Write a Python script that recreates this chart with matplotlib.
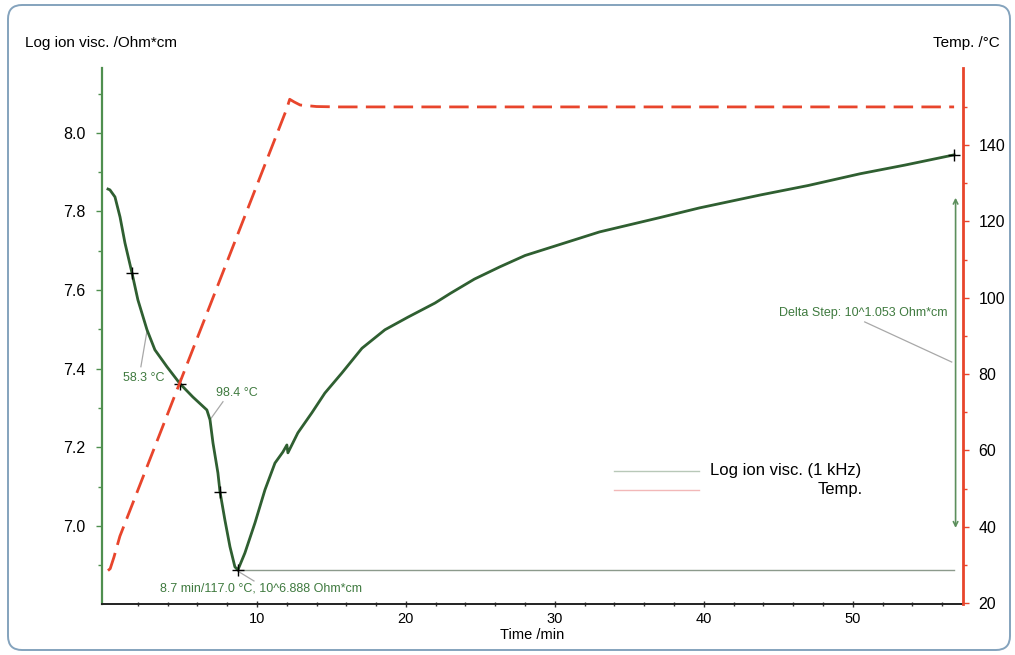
import numpy as np
import matplotlib.pyplot as plt
import matplotlib.patches as mpatches
from matplotlib.transforms import IdentityTransform

plt.rcParams['font.family'] = ['Liberation Sans', 'DejaVu Sans']

# log ion viscosity (1 kHz)
time_visc = [0.0, 0.13, 0.47, 0.81, 1.14, 1.61, 2.01, 2.62, 3.15, 3.96, 4.83, 5.70, 6.64,
             6.85, 7.05, 7.38, 7.52, 7.85, 8.19, 8.52, 8.72, 9.19, 9.87, 10.54, 11.21,
             11.74, 12.01, 12.08, 12.75, 13.69, 14.56, 15.70, 17.05, 18.59, 20.13,
             21.95, 23.0, 24.6, 26.3, 28.0, 30.0, 33.0, 37.0, 39.7, 43.8, 47.0, 50.5, 53.5, 56.8]
visc = [7.857, 7.855, 7.837, 7.786, 7.72, 7.644, 7.575, 7.499, 7.448, 7.405, 7.362, 7.328, 7.295,
        7.270, 7.211, 7.135, 7.087, 7.015, 6.947, 6.896, 6.888, 6.931, 7.008, 7.092, 7.160,
        7.188, 7.206, 7.186, 7.237, 7.288, 7.338, 7.389, 7.452, 7.499, 7.531,
        7.567, 7.592, 7.628, 7.659, 7.688, 7.712, 7.748, 7.784, 7.809, 7.842, 7.866, 7.896, 7.918, 7.944]
marker_times = [1.61, 4.83, 7.52, 8.72, 56.8]

# temperature program
time_temp = [0.0, 0.15, 0.4, 0.8, 12.0, 12.2, 12.5, 12.9, 14.0, 15.5, 56.8]
temp = [28.5, 29.0, 32.0, 37.5, 149.5, 152.0, 151.3, 150.5, 150.1, 150.0, 150.0]

x_ticks = [10, 20, 30, 40, 50]
visc_ticks = [7.0, 7.2, 7.4, 7.6, 7.8, 8.0]
temp_ticks = [20, 40, 60, 80, 100, 120, 140]

green = '#2f5f31'
green_txt = '#3f7a3f'
red = '#e8452c'
grey = '#a8a8a8'

fig = plt.figure(figsize=(10.15, 6.55), dpi=100)
fig.patch.set_facecolor('white')
frame = mpatches.FancyBboxPatch((8, 5), 1002, 645, boxstyle='round,pad=0,rounding_size=14',
                                transform=IdentityTransform(), fill=False,
                                edgecolor='#84a3bd', linewidth=1.4)
fig.patches.append(frame)

ax = fig.add_axes([0.1005, 0.0779, 0.8483, 0.8183])
ax2 = ax.twinx()

ax.set_xlim(-0.4, 57.4)
ax.set_ylim(6.8015, 8.165)
ax2.set_ylim(19.75, 160.2)

for s in ['top', 'right']:
    ax.spines[s].set_visible(False)
for s in ['top', 'left', 'bottom']:
    ax2.spines[s].set_visible(False)
ax.spines['left'].set_color('#4f8f4f')
ax.spines['left'].set_linewidth(1.6)
ax.spines['bottom'].set_color('#222222')
ax.spines['bottom'].set_linewidth(1.4)
ax2.spines['right'].set_color(red)
ax2.spines['right'].set_linewidth(2)

ax.set_xticks(x_ticks)
ax.set_xticks(np.arange(2, 57, 2), minor=True)
ax.set_yticks(visc_ticks)
ax.set_yticks(np.arange(6.9, 8.15, 0.1), minor=True)
ax.set_yticklabels(['%.1f' % v for v in visc_ticks])
ax2.set_yticks(temp_ticks)
ax2.set_yticks(np.arange(30, 160, 10), minor=True)

ax.tick_params(axis='x', which='both', direction='inout', length=4, width=1, colors='#333333',
               labelsize=10.5, labelcolor='black', pad=4)
ax.tick_params(axis='x', which='minor', length=3)
ax.tick_params(axis='y', which='both', length=4, width=1, colors='#4f8f4f',
               labelsize=11.5, labelcolor='black', pad=8)
ax.tick_params(axis='y', which='minor', length=3)
ax2.tick_params(axis='y', which='both', length=4, width=1, colors=red,
                labelsize=11.5, labelcolor='black', pad=7)
ax2.tick_params(axis='y', which='minor', length=3)

ax.set_xlabel('Time /min', fontsize=10.5, labelpad=1)

fig.text(25 / 1015, 1 - 43 / 655, 'Log ion visc. /Ohm*cm', fontsize=11, ha='left', va='center')
fig.text(1000 / 1015, 1 - 43 / 655, 'Temp. /°C', fontsize=11, ha='right', va='center')

# curves
ax2.plot(time_temp, temp, color=red, lw=2, dashes=(7, 3), zorder=2)
ax.plot(time_visc, visc, color=green, lw=2, zorder=3)
marker_vals = [visc[time_visc.index(t)] for t in marker_times]
ax.plot(marker_times, marker_vals, '+', color='black', ms=8, mew=1, zorder=4)

# minimum baseline and delta step arrow
i_min = int(np.argmin(visc))
ax.plot([time_visc[i_min], time_visc[-1]], [visc[i_min], visc[i_min]], color='#8c9a8c', lw=1, zorder=2)
ax.annotate('', xy=(time_visc[-1] + 0.1, 7.835), xytext=(time_visc[-1] + 0.1, 6.995),
            arrowprops=dict(arrowstyle='<->', color='#5c8f5c', lw=1.2,
                            mutation_scale=8, shrinkA=0, shrinkB=0))

# annotations with leader lines
ax.text(2.42, 7.377, '58.3 °C', fontsize=9, color=green_txt, ha='center', va='center')
ax.plot([2.21, 2.62], [7.405, 7.496], color=grey, lw=0.9)
ax.text(8.66, 7.338, '98.4 °C', fontsize=9, color=green_txt, ha='center', va='center')
ax.plot([7.72, 6.85], [7.316, 7.270], color=grey, lw=0.9)
ax.text(10.27, 6.840, '8.7 min/117.0 °C, 10^6.888 Ohm*cm', fontsize=9, color=green_txt,
        ha='center', va='center')
ax.plot([8.72, 9.8], [6.885, 6.860], color=grey, lw=0.9)
ax.text(50.67, 7.542, 'Delta Step: 10^1.053 Ohm*cm', fontsize=9, color=green_txt,
        ha='center', va='center')
ax.plot([50.8, 56.64], [7.519, 7.417], color=grey, lw=0.9)

# legend drawn by hand to mimic the original
ax.plot([34.0, 39.7], [7.14, 7.14], color='#b8c8b8', lw=1)
ax.plot([34.0, 39.7], [7.092, 7.092], color='#f2b8b8', lw=1)
ax.text(40.4, 7.14, 'Log ion visc. (1 kHz)', fontsize=12, ha='left', va='center')
ax.text(50.67, 7.092, 'Temp.', fontsize=12, ha='right', va='center')

plt.savefig('out.png', dpi=100, facecolor='white')
